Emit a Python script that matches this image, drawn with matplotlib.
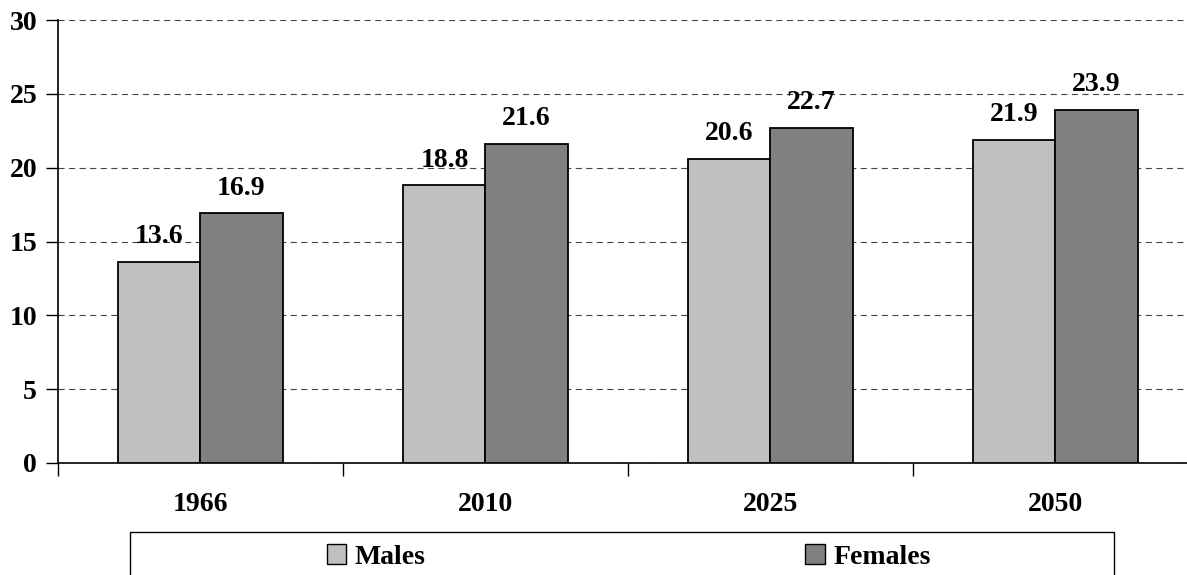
import numpy as np
import matplotlib
matplotlib.use("Agg")
import matplotlib.pyplot as plt
from matplotlib.patches import Rectangle, Patch

years = ["1966", "2010", "2025", "2050"]
males = [13.6, 18.8, 20.6, 21.9]
females = [16.9, 21.6, 22.7, 23.9]
y_ticks = [0, 5, 10, 15, 20, 25, 30]

plt.rcParams['font.family'] = ['Liberation Serif', 'DejaVu Serif']
plt.rcParams['font.weight'] = 'bold'
FS = 20

fig = plt.figure(figsize=(11.87, 5.75), dpi=100)
# axes run slightly past the right edge, as in the source
ax = fig.add_axes([58 / 1187, 1 - 463 / 575, 1140 / 1187, 443 / 575])

x = np.arange(len(years))
w = 0.288
b1 = ax.bar(x - w / 2, males, w, color='#C0C0C0', edgecolor='black', linewidth=1.3, zorder=3)
b2 = ax.bar(x + w / 2, females, w, color='#808080', edgecolor='black', linewidth=1.3, zorder=3)

for bars, vals in ((b1, males), (b2, females)):
    for r, v in zip(bars, vals):
        ax.annotate(f"{v:.1f}", (r.get_x() + r.get_width() / 2, v),
                    xytext=(0, 13.5), textcoords='offset points',
                    ha='center', va='baseline', fontsize=FS, fontweight='bold')

ax.set_xlim(-0.5, len(years) - 0.5)
ax.set_ylim(0, 30)
ax.set_yticks(y_ticks)
ax.set_yticklabels([str(t) for t in y_ticks])
ax.yaxis.grid(True, linestyle=(0, (5.5, 4)), color='#444444', linewidth=0.8, zorder=0)

# category boundaries as major ticks, labels on minor ticks
ax.set_xticks(np.arange(len(years) + 1) - 0.5)
ax.set_xticklabels([])
ax.set_xticks(x, minor=True)
ax.set_xticklabels(years, minor=True)
ax.tick_params(axis='x', which='major', direction='out', length=9, width=1)
ax.tick_params(axis='x', which='minor', length=0, pad=21, labelsize=FS)
ax.tick_params(axis='y', direction='out', length=9, width=1, pad=6, labelsize=FS)

for s in ('top', 'right'):
    ax.spines[s].set_visible(False)
for s in ('left', 'bottom'):
    ax.spines[s].set_linewidth(1.2)

# legend box
fig.patches.append(Rectangle((130 / 1187, 1 - 595 / 575), 984 / 1187, 63 / 575,
                             transform=fig.transFigure, facecolor='white',
                             edgecolor='black', linewidth=1))
for lab, col, cx in (("Males", '#C0C0C0', 376), ("Females", '#808080', 868)):
    fig.legend(handles=[Patch(facecolor=col, edgecolor='black', linewidth=1)],
               labels=[lab], loc='center', bbox_to_anchor=(cx / 1187, 1 - 557 / 575),
               frameon=False, fontsize=FS, handlelength=0.7, handleheight=0.7,
               handletextpad=0.3)

fig.savefig("out.png", dpi=100)
